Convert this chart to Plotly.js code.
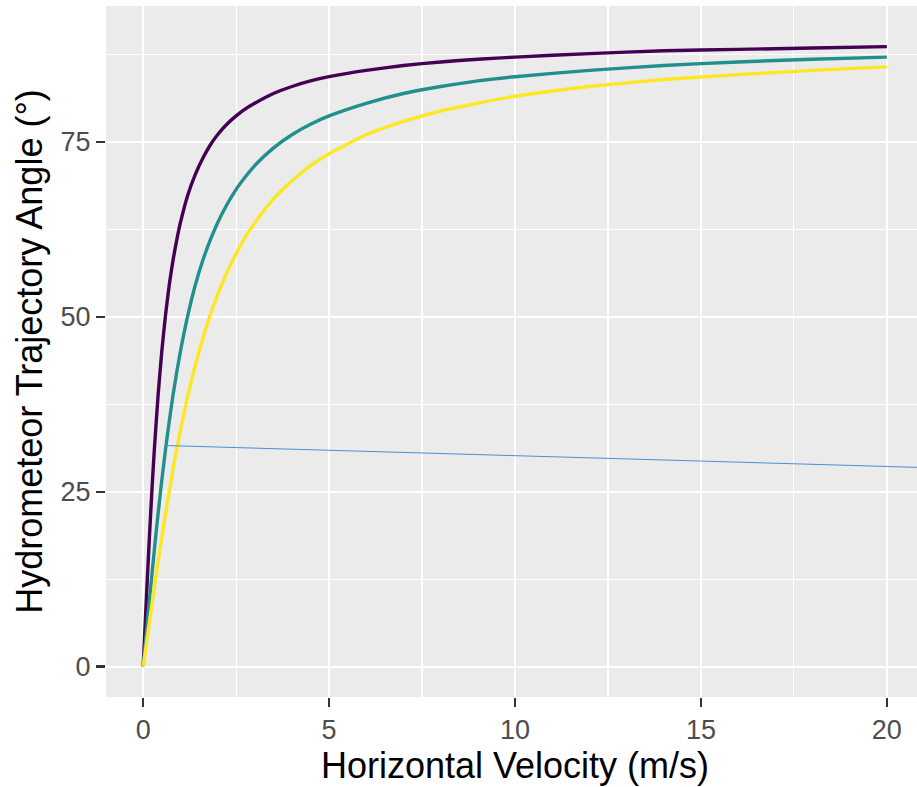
<!DOCTYPE html>
<html>
<head>
<meta charset="utf-8">
<script src="https://cdn.plot.ly/plotly-3.0.1.min.js"></script>
<style>
html,body{margin:0;padding:0;overflow:hidden;background:#fff;}
#chart{width:924px;height:787px;}
</style>
</head>
<body>
<div id="chart"></div>
<script>
// Horizontal velocity (m/s)
const velocity = [0, 0.05, 0.1, 0.15, 0.2, 0.25, 0.3, 0.4, 0.5, 0.6, 0.7, 0.8, 0.9, 1.0, 1.2, 1.4, 1.6, 1.8, 2.0, 2.25, 2.5, 2.75, 3, 3.5, 4, 4.5, 5, 6, 7, 8, 9, 10, 12, 14, 16, 18, 20];
// Trajectory angle (deg)
const anglePurple = [0, 5.7, 11.3, 16.7, 21.8, 26.6, 31.0, 38.7, 45.0, 50.2, 54.5, 58.0, 60.9, 63.4, 67.4, 70.3, 72.6, 74.5, 76.0, 77.5, 78.7, 79.7, 80.5, 81.9, 82.9, 83.7, 84.3, 85.2, 85.9, 86.4, 86.8, 87.1, 87.6, 88.0, 88.2, 88.4, 88.6];
const angleTeal   = [0, 2.9, 5.7, 8.5, 11.3, 14.0, 16.7, 21.8, 26.6, 31.0, 35.0, 38.7, 42.0, 45.0, 50.2, 54.5, 58.0, 60.9, 63.4, 66.0, 68.2, 70.0, 71.6, 74.1, 76.0, 77.5, 78.7, 80.5, 81.9, 82.9, 83.7, 84.3, 85.2, 85.9, 86.4, 86.8, 87.1];
const angleYellow = [0, 1.9, 3.8, 5.7, 7.6, 9.5, 11.3, 14.9, 18.4, 21.8, 25.0, 28.1, 31.0, 33.7, 38.7, 43.0, 46.8, 50.2, 53.1, 56.3, 59.0, 61.4, 63.4, 66.8, 69.4, 71.6, 73.3, 76.0, 77.9, 79.4, 80.5, 81.5, 82.9, 83.9, 84.6, 85.2, 85.7];
// Thin reference line
const refX = [0.6, 22];
const refY = [31.6, 28.3];

const xTicks = [0, 5, 10, 15, 20];
const yTicks = [0, 25, 50, 75];

const seriesColors = ['#440154', '#21908C', '#FDE725'];

function curve(y, color) {
  return {x: velocity, y: y, type: 'scatter', mode: 'lines',
    line: {color: color, width: 3.4, shape: 'spline', smoothing: 0.5},
    hoverinfo: 'skip', showlegend: false};
}

const data = [
  curve(anglePurple, seriesColors[0]),
  curve(angleTeal, seriesColors[1]),
  curve(angleYellow, seriesColors[2]),
  {x: refX, y: refY, type: 'scatter', mode: 'lines',
   line: {color: '#4A8FDB', width: 1}, showlegend: false, hoverinfo: 'skip'}
];

const font = 'Liberation Sans, Arial, Helvetica, sans-serif';

const layout = {
  width: 924, height: 787,
  margin: {l: 106, r: 0, t: 6, b: 90},
  paper_bgcolor: '#FFFFFF',
  plot_bgcolor: '#EBEBEB',
  showlegend: false,
  font: {family: font},
  xaxis: {
    range: [-1, 21],
    tickvals: xTicks, ticktext: xTicks.map(String),
    ticks: 'outside', ticklen: 9, tickwidth: 2.4, tickcolor: '#333333',
    tickfont: {size: 27, color: '#4D4D4D', family: font},
    showgrid: true, gridcolor: '#FFFFFF', gridwidth: 2.2,
    minor: {tickvals: [2.5, 7.5, 12.5, 17.5], showgrid: true, gridcolor: '#FFFFFF', gridwidth: 1.1, ticks: ''},
    zeroline: false, showline: false,
    title: {text: 'Horizontal Velocity (m/s)', font: {size: 36, color: '#000000', family: font}, standoff: 2},
    automargin: false
  },
  yaxis: {
    range: [-4.33, 94.4],
    tickvals: yTicks, ticktext: yTicks.map(String),
    ticks: 'outside', ticklen: 9, tickwidth: 2.4, tickcolor: '#333333',
    tickfont: {size: 27, color: '#4D4D4D', family: font},
    showgrid: true, gridcolor: '#FFFFFF', gridwidth: 2.2,
    minor: {tickvals: [12.5, 37.5, 62.5, 87.5], showgrid: true, gridcolor: '#FFFFFF', gridwidth: 1.1, ticks: ''},
    zeroline: false, showline: false,
    title: {text: 'Hydrometeor Trajectory Angle (°)', font: {size: 36, color: '#000000', family: font}, standoff: 6},
    automargin: false
  }
};

Plotly.newPlot('chart', data, layout, {displayModeBar: false, staticPlot: true});
</script>
</body>
</html>
